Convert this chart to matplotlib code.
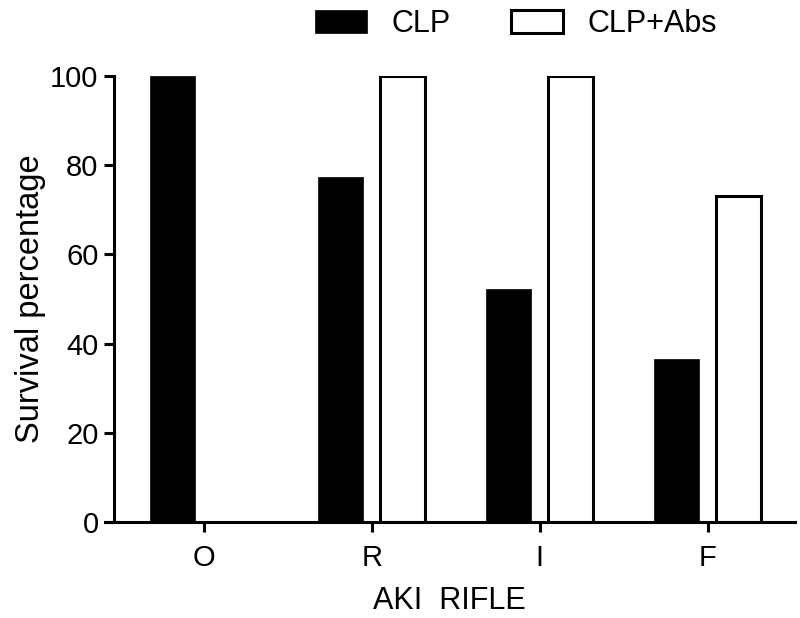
import numpy as np
import matplotlib
matplotlib.use('Agg')
import matplotlib.pyplot as plt

plt.rcParams['font.family'] = ['Liberation Sans', 'DejaVu Sans']

# values
categories = ['O', 'R', 'I', 'F']
clp = [100, 77.4, 52.2, 36.5]
clp_abs = [0, 100, 100, 73.1]

x = np.arange(len(categories))
width = 0.27
offset = 0.185

fig = plt.figure(figsize=(8, 6.18), dpi=100)
ax = fig.add_axes([0.131, 0.155, 0.8625, 0.722])

ax.bar(x - offset, clp, width, color='black', edgecolor='black', linewidth=0.5, label='CLP')
# the O group has no CLP+Abs bar drawn in the reference
mask = np.array(clp_abs) > 0
ax.bar(x[mask] + offset, np.array(clp_abs)[mask], width, color='white',
       edgecolor='black', linewidth=2.2, label='CLP+Abs')

ax.set_xlim(-0.59, 3.52)
ax.set_ylim(0, 100)
ax.set_yticks([0, 20, 40, 60, 80, 100])
ax.set_xticks(x)
ax.set_xticklabels(categories)

for side in ['top', 'right']:
    ax.spines[side].set_visible(False)
for side in ['left', 'bottom']:
    ax.spines[side].set_linewidth(2.2)
# y axis sits a little to the right of where the x axis line starts
ax.spines['left'].set_position(('data', -0.536))

ax.tick_params(axis='both', which='major', labelsize=21, width=2.2, length=7)
ax.tick_params(axis='y', pad=4)
ax.tick_params(axis='x', pad=9)
ax.set_ylabel('Survival percentage', fontsize=23.5, labelpad=3)
ax.set_xlabel('AKI  RIFLE', fontsize=22, labelpad=10)

fig.legend(loc='upper center', bbox_to_anchor=(0.645, 1.03), ncol=2, frameon=False,
           fontsize=22, handlelength=1.7, handleheight=0.8, handletextpad=0.8,
           columnspacing=2.0)

fig.savefig('out.png', dpi=100)
